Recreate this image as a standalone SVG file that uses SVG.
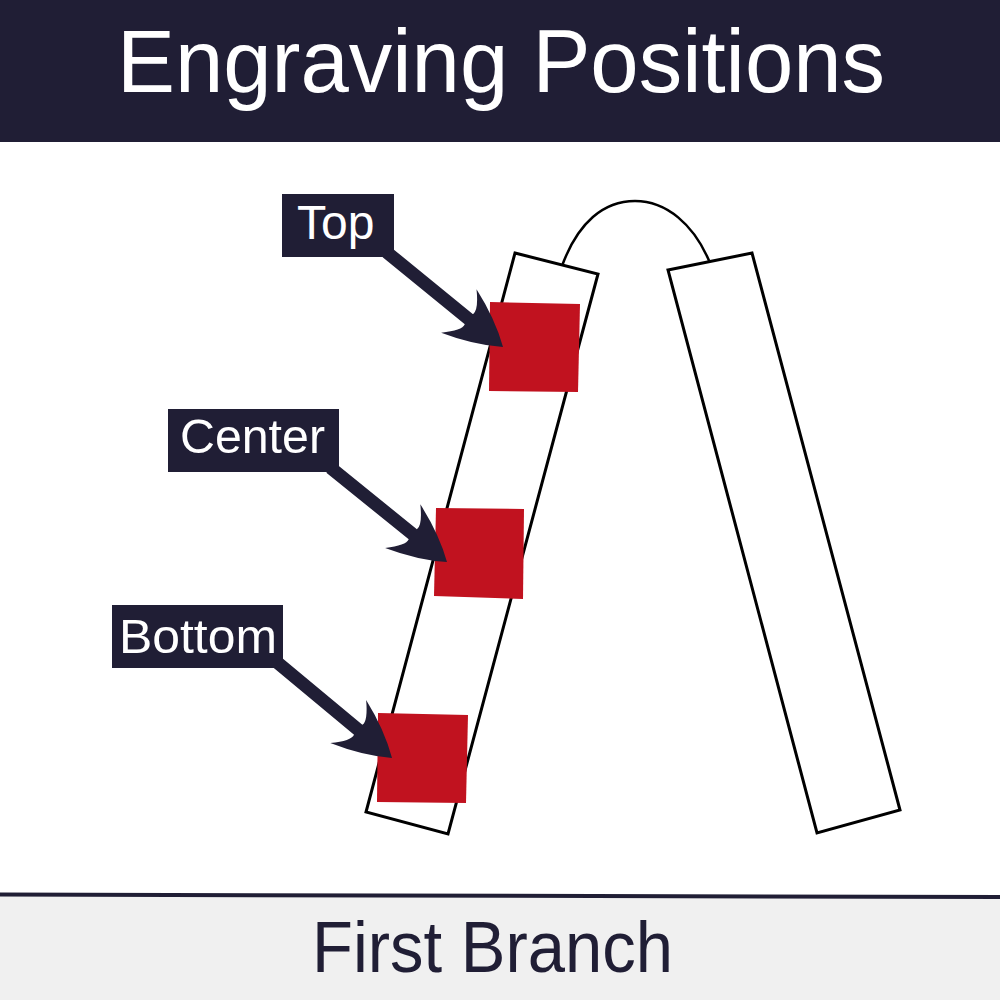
<svg xmlns="http://www.w3.org/2000/svg" width="1000" height="1000" viewBox="0 0 1000 1000">
<style>
.bar{fill:#fff;stroke:#000;stroke-width:3;stroke-linejoin:miter}
.arch{fill:none;stroke:#000;stroke-width:2.5}
.mark{fill:#c1121f}
.lbl{fill:#201e35}
.lbltxt{fill:#fff;font-family:"Liberation Sans",Arial,sans-serif;font-size:48px}
.arrow{fill:#201e35}
.title{fill:#fff;font-family:"Liberation Sans",Arial,sans-serif;font-size:89px}
.sub{fill:#201e35;font-family:"Liberation Sans",Arial,sans-serif;font-size:73px}
</style>
<defs>
<path id="arr" d="M0 0 Q-24 -17 -57 -28 Q-42 -13 -44 -6.5 L-150 -6.5 L-150 6.5 L-44 6.5 Q-42 13 -57 28 Q-24 17 0 0 Z"/>
</defs>
<rect width="1000" height="1000" fill="#fff"/>
<g id="header">
<rect x="0" y="0" width="1000" height="142" fill="#201e35"/>
<text class="title" x="117" y="92" textLength="768" lengthAdjust="spacingAndGlyphs">Engraving Positions</text>
</g>
<g id="footer">
<rect x="0" y="896" width="1000" height="104" fill="#f0f0f0"/>
<path d="M0 894.5 L1000 897" stroke="#201e35" stroke-width="4"/>
<text class="sub" x="312" y="972" textLength="361" lengthAdjust="spacingAndGlyphs">First Branch</text>
</g>
<g id="branch">
<path class="arch" d="M562 266 C578 222 604 201 635 201 C666 201 694 224 710 263"/>
<polygon class="bar" points="515,253 598,274 448,834 366,812"/>
<polygon class="bar" points="668,270 752,253 900,810 817,833"/>
</g>
<g id="mark-top"><polygon class="mark" points="490,302 580,304 578,392 489,391"/></g>
<g id="mark-center"><polygon class="mark" points="436,508 524,509 523,599 434,596"/></g>
<g id="mark-bottom"><polygon class="mark" points="378,713 468,715 466,803 377,802"/></g>
<g id="connectors">
<use href="#arr" class="arrow" transform="translate(503 347) rotate(39.2)"/>
<use href="#arr" class="arrow" transform="translate(447 562) rotate(39)"/>
<use href="#arr" class="arrow" transform="translate(392 758) rotate(39.8)"/>
</g>
<g id="label-top">
<rect class="lbl" x="282" y="194" width="112" height="63"/>
<text class="lbltxt" x="297" y="239">Top</text>
</g>
<g id="label-center">
<rect class="lbl" x="168" y="409" width="171" height="63"/>
<text class="lbltxt" x="180" y="453" textLength="145" lengthAdjust="spacingAndGlyphs">Center</text>
</g>
<g id="label-bottom">
<rect class="lbl" x="112" y="605" width="171" height="63"/>
<text class="lbltxt" x="119" y="653" textLength="158" lengthAdjust="spacingAndGlyphs">Bottom</text>
</g>
</svg>
